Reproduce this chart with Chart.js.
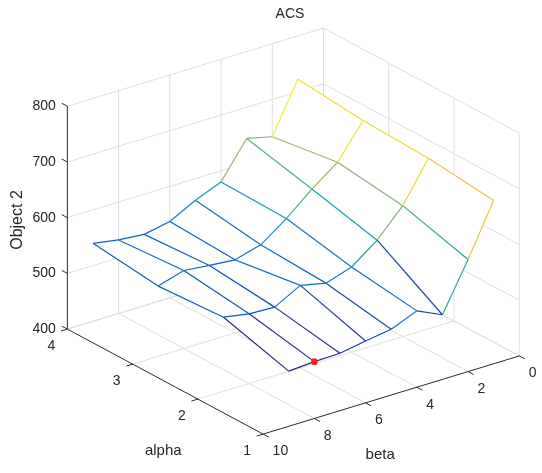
<!DOCTYPE html>
<html><head><meta charset="utf-8">
<script src="https://cdn.jsdelivr.net/npm/chart.js@4.4.0/dist/chart.umd.min.js"></script>
<style>html,body{margin:0;padding:0;background:#fff;overflow:hidden;}</style>
</head><body>
<canvas id="c" width="542" height="473" style="width:542px;height:473px;display:block"></canvas>
<script>
// ---- data ----
const alphaValues = [1, 2, 3, 4];
const betaValues = [1, 2, 3, 4, 5, 6, 7, 8, 9];
// Object 2 values, one array per alpha, ordered by betaValues
const objAlpha1 = [693, 601, 516, 537, 518, 511, 503, 502, 499];
const objAlpha2 = [706, 635, 587, 553, 538, 548, 523, 525, 533];
const objAlpha3 = [711, 650, 616, 577, 544, 531, 535, 540, 526];
const objAlpha4 = [722, 633, 644, 580, 561, 537, 528, 532, 540];
const alphaTicks = [1, 2, 3, 4];
const betaTicks = [0, 2, 4, 6, 8, 10];
const zTicks = [400, 500, 600, 700, 800];
const markedAlpha = [1];
const markedBeta = [8];
const markedObj = [502];
const titleText = 'ACS';
const xLabel = 'beta', yLabel = 'alpha', zLabel = 'Object 2';

const zRows = [objAlpha1, objAlpha2, objAlpha3, objAlpha4];
const W = 542, H = 473;
const A0 = 1, A1 = 4, B0 = 0, B1 = 10, Z0 = 400, Z1 = 800;

// ---- view (camera) ----
const view = {fx: 263, fy: 437.5, ax: -198.7, ay: -106.8, bx: 260, by: -79.5, zy: -226.7};
function P(a, b, z) {
  const u = (a - A0) / (A1 - A0), v = (B1 - b) / (B1 - B0), w = (z - Z0) / (Z1 - Z0);
  return {x: view.fx + u * view.ax + v * view.bx, y: view.fy + u * view.ay + v * view.by + w * view.zy};
}

// parula colormap (sampled)
const parulaStops = [
  [0.2081,0.1663,0.5292],[0.0117,0.3875,0.8820],[0.0793,0.5200,0.8312],[0.0228,0.6535,0.7768],
  [0.2178,0.7250,0.6193],[0.5709,0.7485,0.4494],[0.8507,0.7299,0.3360],[0.9880,0.8066,0.1794],[0.9763,0.9831,0.0538]
];
let zMin = Infinity, zMax = -Infinity;
zRows.forEach(r => r.forEach(v => { zMin = Math.min(zMin, v); zMax = Math.max(zMax, v); }));
function parula(z) {
  let t = (z - zMin) / (zMax - zMin); t = Math.max(0, Math.min(1, t));
  const f = t * (parulaStops.length - 1); const i = Math.min(Math.floor(f), parulaStops.length - 2); const r = f - i;
  let c = parulaStops[i].map((v, k) => (v + (parulaStops[i + 1][k] - v) * r) * 255);
  const l = 0.3 * c[0] + 0.59 * c[1] + 0.11 * c[2];
  c = c.map(v => Math.round(v * 0.85 + l * 0.15 - 6));
  return `rgb(${c[0]},${c[1]},${c[2]})`;
}

const datasets = [];
const GRID = '#dedede', AXIS = '#2b2b2b';
function line(pts, color, width, order) {
  datasets.push({data: pts.map(p => ({x: p.x, y: p.y})), borderColor: color, borderWidth: width,
    pointRadius: 0, fill: false, tension: 0, order: order, clip: false});
}

// ---- background grid ----
alphaTicks.forEach(a => { if (a !== A0) line([P(a, B1, Z0), P(a, B0, Z0)], GRID, 1, 5); });
betaTicks.forEach(b => { if (b !== B1) line([P(A0, b, Z0), P(A1, b, Z0)], GRID, 1, 5); });
zTicks.forEach(z => { line([P(A1, B1, z), P(A1, B0, z)], GRID, 1, 5); line([P(A1, B0, z), P(A0, B0, z)], GRID, 1, 5); });
betaTicks.forEach(b => { if (b !== B1) line([P(A1, b, Z0), P(A1, b, Z1)], GRID, 1, 5); });
alphaTicks.forEach(a => { if (a !== A1) line([P(a, B0, Z0), P(a, B0, Z1)], GRID, 1, 5); });

// ---- white faces of the mesh ----
for (let i = 0; i < alphaValues.length - 1; i++) {
  for (let j = 0; j < betaValues.length - 1; j++) {
    const q = [P(alphaValues[i], betaValues[j], zRows[i][j]), P(alphaValues[i + 1], betaValues[j], zRows[i + 1][j]),
               P(alphaValues[i + 1], betaValues[j + 1], zRows[i + 1][j + 1]), P(alphaValues[i], betaValues[j + 1], zRows[i][j + 1])];
    datasets.push({data: q.map(p => ({x: p.x, y: p.y})), fill: 'shape', backgroundColor: '#ffffff',
      borderColor: 'rgba(255,255,255,0)', borderWidth: 0, pointRadius: 0, tension: 0, order: 3, clip: false});
  }
}

// ---- mesh edges (flat colour from the first vertex of each edge) ----
function meshSeg(a0, b0, z0, a1, b1, z1) {
  line([P(a0, b0, z0), P(a1, b1, z1)], parula(z0), 1.2, 1);
}
for (let i = 0; i < alphaValues.length; i++)
  for (let j = 0; j < betaValues.length - 1; j++)
    meshSeg(alphaValues[i], betaValues[j], zRows[i][j], alphaValues[i], betaValues[j + 1], zRows[i][j + 1]);
for (let j = 0; j < betaValues.length; j++)
  for (let i = 0; i < alphaValues.length - 1; i++)
    meshSeg(alphaValues[i], betaValues[j], zRows[i][j], alphaValues[i + 1], betaValues[j], zRows[i + 1][j]);

// ---- axes and ticks ----
line([P(A1, B1, Z0), P(A0, B1, Z0)], AXIS, 1, 0);
line([P(A0, B1, Z0), P(A0, B0, Z0)], AXIS, 1, 0);
line([P(A1, B1, Z0), P(A1, B1, Z1)], AXIS, 1, 0);
zTicks.forEach(z => line([P(A1, B1, z), P(A1 + 0.085, B1, z)], AXIS, 1, 0));
alphaTicks.forEach(a => line([P(a, B1, Z0), P(a, B1 + 0.25, Z0)], AXIS, 1, 0));
betaTicks.forEach(b => line([P(A0, b, Z0), P(A0 - 0.085, b, Z0)], AXIS, 1, 0));

// ---- marked point ----
datasets.push({data: markedAlpha.map((a, k) => { const p = P(a, markedBeta[k], markedObj[k]); return {x: p.x, y: p.y}; }),
  showLine: false, pointRadius: 3.4, pointBackgroundColor: '#ff1a1a', pointBorderColor: '#ff1a1a', pointBorderWidth: 0, order: -1, clip: false});

// ---- text ----
const FONT = '"Liberation Sans", Arial, Helvetica, sans-serif';
const textPlugin = {
  id: 'texts',
  afterDraw(chart) {
    const c = chart.ctx, xs = chart.scales.x, ys = chart.scales.y;
    const px = p => ({x: xs.getPixelForValue(p.x), y: ys.getPixelForValue(p.y)});
    c.save();
    c.fillStyle = '#262626';
    c.font = '14px ' + FONT;
    c.textBaseline = 'middle';
    c.textAlign = 'right';
    zTicks.forEach(z => { const p = px(P(A1, B1, z)); c.fillText(String(z), p.x - 11.5, p.y); });
    c.textAlign = 'center';
    alphaTicks.forEach(a => { const p = px(P(a, B1, Z0)); c.fillText(String(a), p.x - 16, p.y + 17.5); });
    c.textAlign = 'left';
    betaTicks.forEach(b => { const p = px(P(A0, b, Z0)); c.fillText(String(b), p.x + 9.5, p.y + 17.5); });
    c.font = '15px ' + FONT;
    c.textAlign = 'center';
    const la = px(P((A0 + A1) / 2, B1, Z0));
    c.fillText(yLabel, la.x - 2, la.y + 69);
    const lb = px(P(A0, (B0 + B1) / 2, Z0));
    c.fillText(xLabel, lb.x - 11, lb.y + 60);
    c.font = '14px ' + FONT;
    c.fillText(titleText, 290, 14);
    c.font = '16px ' + FONT;
    c.translate(18, 220); c.rotate(-Math.PI / 2);
    c.fillText(zLabel, 0, 0);
    c.restore();
  }
};

new Chart(document.getElementById('c'), {
  type: 'line',
  data: {datasets},
  options: {
    responsive: false, animation: false, events: [],
    layout: {padding: 0},
    plugins: {legend: {display: false}, tooltip: {enabled: false}, title: {display: false}},
    scales: {
      x: {type: 'linear', min: 0, max: W, display: false},
      y: {type: 'linear', min: 0, max: H, reverse: true, display: false}
    }
  },
  plugins: [textPlugin]
});
</script>
</body></html>
